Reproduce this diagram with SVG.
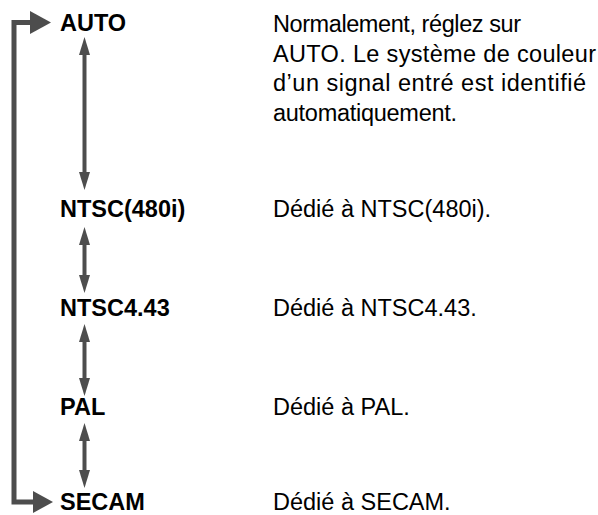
<svg xmlns="http://www.w3.org/2000/svg" width="598" height="515" viewBox="0 0 598 515">
<style>
.lbl{font-family:"Liberation Sans",Arial,Helvetica,sans-serif;font-weight:bold;font-size:23.5px;fill:#000}
.desc{font-family:"Liberation Sans",Arial,Helvetica,sans-serif;font-size:23.5px;fill:#000}
.conn{stroke:#4d4d4d;stroke-width:4;fill:none}
.loop{stroke:#4d4d4d;stroke-width:5;fill:none}
.head{fill:#4d4d4d}
</style>
<defs>
<marker id="ah" markerUnits="userSpaceOnUse" markerWidth="18" markerHeight="11" refX="0" refY="5.5" orient="auto-start-reverse" viewBox="0 0 18 11">
<path d="M0,0 L18,5.5 L0,11 Z" class="head"/>
</marker>
</defs>
<rect width="598" height="515" fill="#fff"/>
<g id="connectors">
<line class="conn" x1="84.5" y1="55" x2="84.5" y2="172" marker-start="url(#ah)" marker-end="url(#ah)"/>
<line class="conn" x1="84.5" y1="245" x2="84.5" y2="275" marker-start="url(#ah)" marker-end="url(#ah)"/>
<line class="conn" x1="84.5" y1="342" x2="84.5" y2="378" marker-start="url(#ah)" marker-end="url(#ah)"/>
<line class="conn" x1="84.5" y1="441" x2="84.5" y2="470" marker-start="url(#ah)" marker-end="url(#ah)"/>
<path class="loop" d="M31,22.5 H14 V502 H34"/>
<path class="head" d="M30,11 L51,22.5 L30,34 Z"/>
<path class="head" d="M33,491 L53,502 L33,513 Z"/>
</g>
<g id="auto">
<text class="lbl" x="60" y="31">AUTO</text>
<text class="desc" x="273" y="32" textLength="248" lengthAdjust="spacing">Normalement, réglez sur</text>
<text class="desc" x="273" y="61.5" textLength="323" lengthAdjust="spacing">AUTO. Le système de couleur</text>
<text class="desc" x="273" y="91" textLength="313" lengthAdjust="spacing">d’un signal entré est identifié</text>
<text class="desc" x="273" y="120.5" textLength="184" lengthAdjust="spacing">automatiquement.</text>
</g>
<g id="ntsc480i">
<text class="lbl" x="60" y="217">NTSC(480i)</text>
<text class="desc" x="273" y="217">Dédié à NTSC(480i).</text>
</g>
<g id="ntsc443">
<text class="lbl" x="60" y="316">NTSC4.43</text>
<text class="desc" x="273" y="316">Dédié à NTSC4.43.</text>
</g>
<g id="pal">
<text class="lbl" x="60" y="415">PAL</text>
<text class="desc" x="273" y="415">Dédié à PAL.</text>
</g>
<g id="secam">
<text class="lbl" x="60" y="510">SECAM</text>
<text class="desc" x="273" y="510">Dédié à SECAM.</text>
</g>
</svg>
